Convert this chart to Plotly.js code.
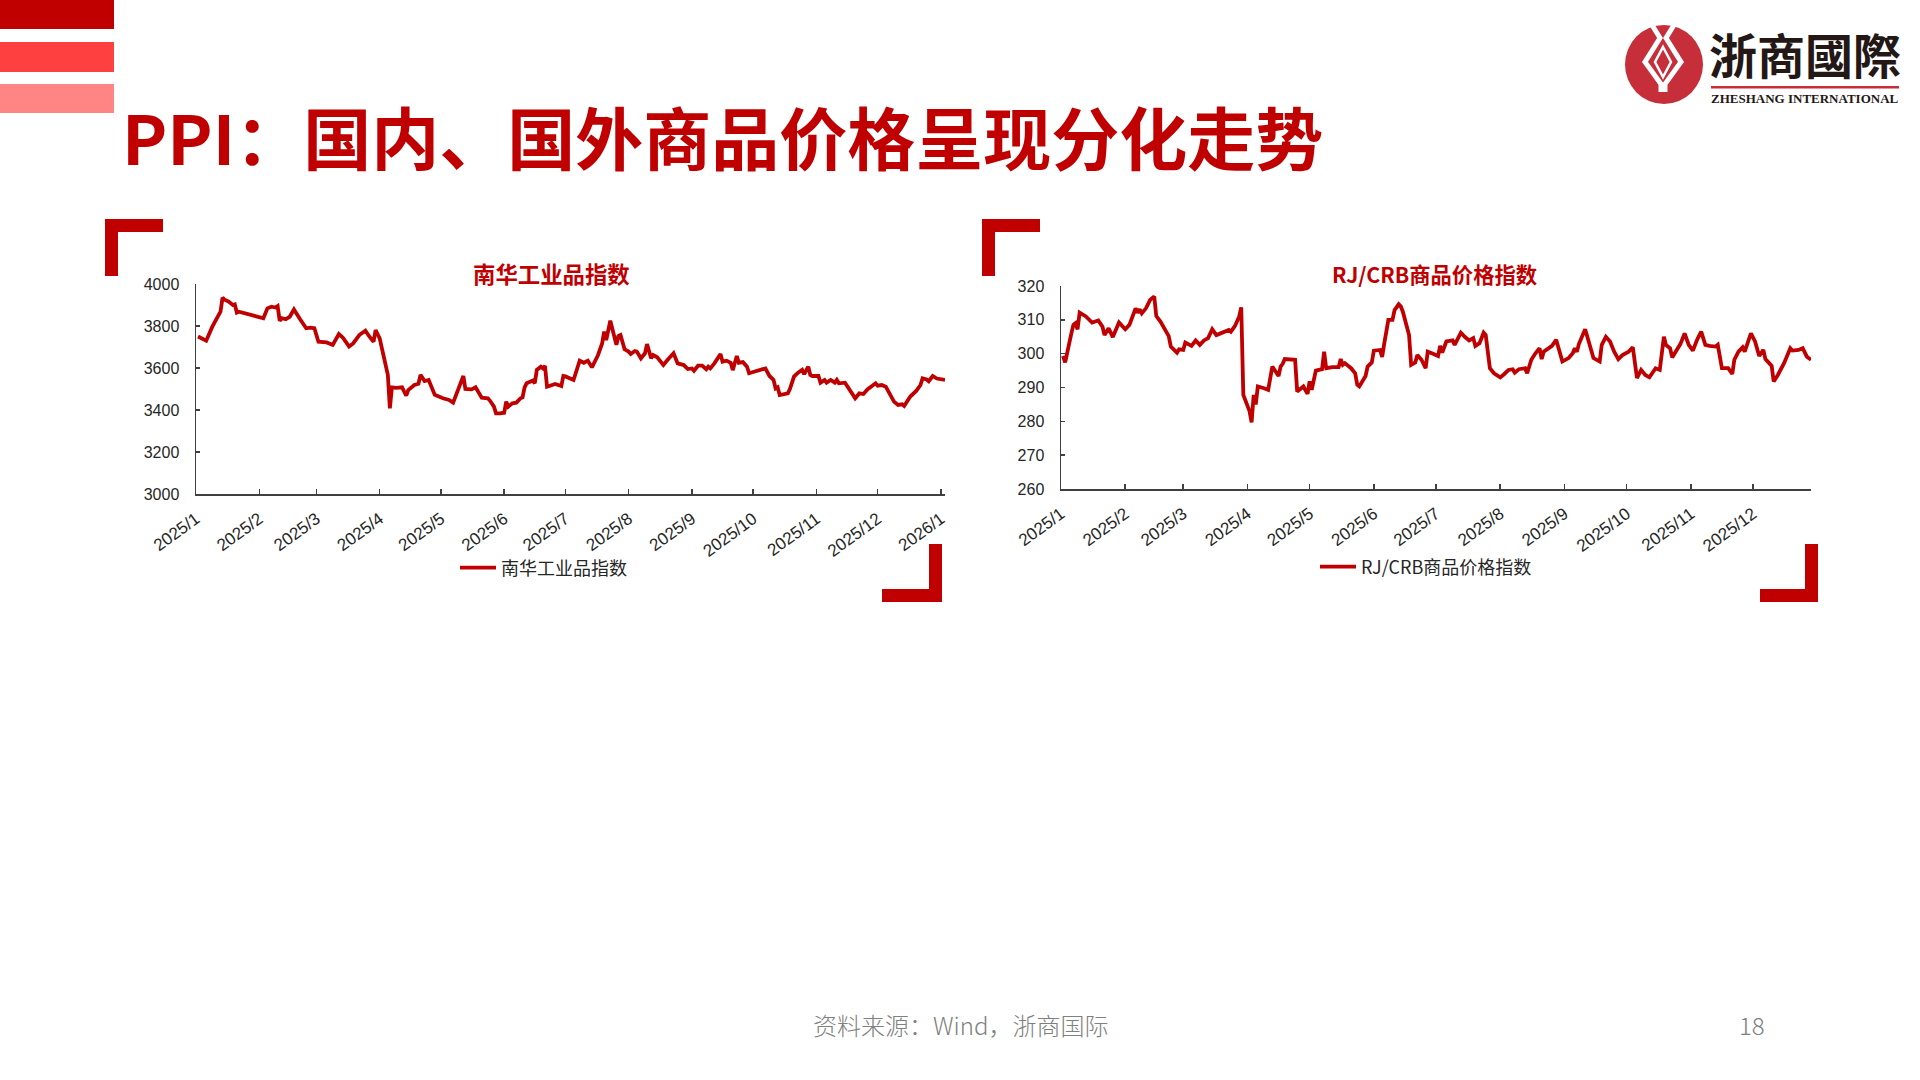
<!DOCTYPE html>
<html>
<head>
<meta charset="utf-8">
<script src="https://cdn.plot.ly/plotly-3.0.1.min.js"></script>
<style>
html,body{margin:0;padding:0;background:#fff;}
#chart{width:1920px;height:1080px;}
</style>
</head>
<body>
<div id="chart"></div>
<script>
// ---------------- DATA ----------------
const nanhuaName = "南华工业品指数";
const nanhuaDates = ["2025-01-02","2025-01-06","2025-01-09","2025-01-12","2025-01-13","2025-01-14","2025-01-15","2025-01-17","2025-01-19","2025-01-20","2025-01-21","2025-01-22","2025-02-03","2025-02-05","2025-02-07","2025-02-09","2025-02-10","2025-02-11","2025-02-12","2025-02-14","2025-02-16","2025-02-18","2025-02-20","2025-02-21","2025-02-24","2025-02-26","2025-02-28","2025-03-02","2025-03-06","2025-03-09","2025-03-12","2025-03-14","2025-03-17","2025-03-19","2025-03-22","2025-03-23","2025-03-25","2025-03-27","2025-03-29","2025-03-30","2025-04-01","2025-04-03","2025-04-05","2025-04-06","2025-04-07","2025-04-09","2025-04-12","2025-04-14","2025-04-15","2025-04-18","2025-04-20","2025-04-21","2025-04-23","2025-04-25","2025-04-28","2025-05-02","2025-05-05","2025-05-07","2025-05-08","2025-05-10","2025-05-12","2025-05-13","2025-05-16","2025-05-18","2025-05-20","2025-05-21","2025-05-24","2025-05-25","2025-05-27","2025-05-28","2025-05-30","2025-06-01","2025-06-02","2025-06-03","2025-06-05","2025-06-07","2025-06-09","2025-06-10","2025-06-11","2025-06-12","2025-06-15","2025-06-16","2025-06-17","2025-06-19","2025-06-20","2025-06-21","2025-06-22","2025-06-24","2025-06-26","2025-06-29","2025-06-30","2025-07-01","2025-07-05","2025-07-08","2025-07-10","2025-07-12","2025-07-14","2025-07-17","2025-07-19","2025-07-20","2025-07-21","2025-07-23","2025-07-24","2025-07-26","2025-07-27","2025-07-28","2025-07-30","2025-08-01","2025-08-02","2025-08-04","2025-08-05","2025-08-07","2025-08-09","2025-08-10","2025-08-12","2025-08-13","2025-08-15","2025-08-18","2025-08-20","2025-08-23","2025-08-25","2025-08-28","2025-08-30","2025-09-01","2025-09-02","2025-09-04","2025-09-06","2025-09-08","2025-09-09","2025-09-10","2025-09-12","2025-09-15","2025-09-16","2025-09-18","2025-09-20","2025-09-21","2025-09-23","2025-09-24","2025-09-26","2025-09-28","2025-09-29","2025-10-07","2025-10-09","2025-10-11","2025-10-12","2025-10-13","2025-10-14","2025-10-18","2025-10-19","2025-10-21","2025-10-23","2025-10-25","2025-10-26","2025-10-28","2025-10-29","2025-10-30","2025-11-02","2025-11-03","2025-11-05","2025-11-06","2025-11-08","2025-11-10","2025-11-11","2025-11-12","2025-11-15","2025-11-17","2025-11-20","2025-11-22","2025-11-24","2025-11-26","2025-11-30","2025-12-01","2025-12-03","2025-12-05","2025-12-07","2025-12-09","2025-12-11","2025-12-13","2025-12-14","2025-12-17","2025-12-20","2025-12-22","2025-12-23","2025-12-25","2025-12-26","2025-12-28","2025-12-30","2026-01-01","2026-01-03"];
const nanhuaValues = [3750,3730,3797,3852,3868,3935,3925,3916,3900,3903,3864,3868,3837,3884,3892,3888,3895,3825,3837,3832,3845,3879,3852,3832,3789,3792,3789,3725,3722,3710,3762,3744,3702,3717,3757,3765,3778,3749,3725,3781,3741,3654,3567,3408,3508,3505,3508,3468,3495,3519,3525,3567,3538,3543,3472,3456,3448,3435,3460,3500,3562,3500,3498,3508,3472,3459,3456,3445,3416,3384,3384,3387,3440,3416,3432,3435,3456,3460,3508,3527,3540,3527,3591,3606,3598,3610,3511,3518,3524,3514,3562,3560,3543,3635,3625,3635,3603,3662,3717,3773,3733,3825,3789,3710,3752,3757,3689,3678,3667,3681,3678,3646,3670,3714,3646,3662,3651,3614,3638,3670,3622,3614,3595,3598,3587,3611,3611,3594,3606,3598,3622,3667,3630,3635,3625,3590,3657,3625,3628,3606,3575,3598,3562,3543,3503,3508,3471,3479,3500,3559,3578,3591,3571,3606,3567,3562,3562,3530,3543,3530,3543,3530,3543,3527,3530,3503,3456,3479,3476,3498,3527,3516,3519,3511,3471,3440,3424,3427,3419,3464,3492,3519,3551,3545,3537,3562,3550,3548,3543];

const crbName = "RJ/CRB商品价格指数";
const crbDates = ["2025-01-02","2025-01-03","2025-01-06","2025-01-07","2025-01-08","2025-01-09","2025-01-10","2025-01-13","2025-01-15","2025-01-16","2025-01-19","2025-01-21","2025-01-22","2025-01-24","2025-01-26","2025-01-29","2025-02-01","2025-02-03","2025-02-06","2025-02-07","2025-02-08","2025-02-09","2025-02-11","2025-02-13","2025-02-15","2025-02-16","2025-02-18","2025-02-19","2025-02-21","2025-02-22","2025-02-23","2025-02-26","2025-02-27","2025-03-01","2025-03-02","2025-03-05","2025-03-07","2025-03-09","2025-03-11","2025-03-13","2025-03-15","2025-03-17","2025-03-19","2025-03-21","2025-03-23","2025-03-24","2025-03-26","2025-03-28","2025-03-29","2025-03-30","2025-04-01","2025-04-02","2025-04-03","2025-04-04","2025-04-05","2025-04-06","2025-04-09","2025-04-11","2025-04-13","2025-04-14","2025-04-16","2025-04-17","2025-04-18","2025-04-19","2025-04-24","2025-04-25","2025-04-28","2025-04-30","2025-05-01","2025-05-02","2025-05-04","2025-05-07","2025-05-08","2025-05-09","2025-05-12","2025-05-15","2025-05-16","2025-05-17","2025-05-18","2025-05-21","2025-05-23","2025-05-24","2025-05-25","2025-05-28","2025-05-29","2025-05-31","2025-06-01","2025-06-04","2025-06-05","2025-06-06","2025-06-08","2025-06-10","2025-06-11","2025-06-13","2025-06-14","2025-06-15","2025-06-18","2025-06-19","2025-06-21","2025-06-22","2025-06-24","2025-06-26","2025-06-27","2025-06-29","2025-07-02","2025-07-03","2025-07-04","2025-07-06","2025-07-09","2025-07-10","2025-07-13","2025-07-15","2025-07-17","2025-07-19","2025-07-20","2025-07-22","2025-07-24","2025-07-25","2025-07-27","2025-07-29","2025-08-01","2025-08-03","2025-08-05","2025-08-07","2025-08-08","2025-08-10","2025-08-13","2025-08-14","2025-08-16","2025-08-18","2025-08-20","2025-08-21","2025-08-22","2025-08-26","2025-08-28","2025-08-31","2025-09-03","2025-09-05","2025-09-06","2025-09-07","2025-09-08","2025-09-11","2025-09-13","2025-09-15","2025-09-18","2025-09-19","2025-09-21","2025-09-23","2025-09-25","2025-09-27","2025-09-29","2025-10-02","2025-10-04","2025-10-06","2025-10-08","2025-10-10","2025-10-12","2025-10-15","2025-10-17","2025-10-19","2025-10-20","2025-10-22","2025-10-23","2025-10-25","2025-10-27","2025-10-29","2025-10-31","2025-11-02","2025-11-04","2025-11-06","2025-11-08","2025-11-10","2025-11-13","2025-11-14","2025-11-16","2025-11-19","2025-11-21","2025-11-22","2025-11-24","2025-11-26","2025-11-27","2025-11-30","2025-12-02","2025-12-04","2025-12-06","2025-12-07","2025-12-10","2025-12-11","2025-12-13","2025-12-16","2025-12-19","2025-12-20","2025-12-23","2025-12-25","2025-12-27","2025-12-29"];
const crbValues = [299.3,297.4,306.0,308.5,309.0,307.2,312.1,311.0,309.8,309.2,309.8,308.0,305.5,307.5,304.9,309.2,307.2,308.5,313.4,312.1,313.1,311.9,313.4,315.9,316.9,311.1,309.5,308.5,306.0,305.2,302.1,300.3,301.3,301.1,303.3,302.3,303.9,302.6,303.9,304.6,307.2,305.5,306.0,306.5,307.0,306.5,308.2,311.0,313.7,287.8,284.9,283.0,279.7,287.8,285.0,290.3,289.8,289.3,296.2,295.2,293.4,296.2,297.0,298.4,298.2,288.8,290.3,288.1,291.8,289.3,295.0,295.4,300.6,295.7,296.0,296.0,298.4,296.7,297.2,295.7,294.2,290.8,290.3,293.4,296.2,297.4,300.9,301.1,299.0,302.9,310.0,310.0,312.9,314.6,314.0,312.4,305.5,296.7,297.4,299.6,298.2,295.7,300.6,300.1,299.3,302.3,300.3,303.6,303.9,302.6,306.2,304.9,303.9,304.6,302.3,303.1,306.2,305.5,295.7,294.2,293.0,294.0,295.2,295.4,294.4,295.4,295.7,294.2,298.2,300.1,301.6,298.4,300.6,302.3,304.1,297.7,298.7,300.1,301.6,300.6,302.9,307.2,302.6,298.7,297.7,302.6,305.0,303.6,300.6,298.4,299.6,300.6,301.9,292.8,295.2,293.7,293.0,295.7,295.2,305.0,302.6,301.6,298.9,300.9,302.9,306.0,302.6,300.9,304.1,306.5,302.6,302.3,302.1,302.6,295.7,295.7,294.0,298.2,300.6,301.9,300.6,306.0,303.6,299.3,301.1,298.4,296.4,291.8,293.7,297.2,301.6,300.9,301.1,301.6,299.1,298.2];

const leftTickVals = ["2025-01-01","2025-02-01","2025-03-01","2025-04-01","2025-05-01","2025-06-01","2025-07-01","2025-08-01","2025-09-01","2025-10-01","2025-11-01","2025-12-01","2026-01-01"];
const leftTickText = ["2025/1","2025/2","2025/3","2025/4","2025/5","2025/6","2025/7","2025/8","2025/9","2025/10","2025/11","2025/12","2026/1"];
const rightTickVals = ["2025-01-01","2025-02-01","2025-03-01","2025-04-01","2025-05-01","2025-06-01","2025-07-01","2025-08-01","2025-09-01","2025-10-01","2025-11-01","2025-12-01"];
const rightTickText = ["2025/1","2025/2","2025/3","2025/4","2025/5","2025/6","2025/7","2025/8","2025/9","2025/10","2025/11","2025/12"];

const pageTitle = "PPI：国内、国外商品价格呈现分化走势";
const sourceText = "资料来源：Wind，浙商国际";
const pageNumber = "18";

// ---------------- LAYOUT HELPERS ----------------
const W = 1920, H = 1080;
const px = x => x / W;
const py = y => 1 - y / H;
const RED = "#C00000";
const AX = "#404040";
const yTickFont = {family: "Liberation Sans, Arial, sans-serif", size: 16, color: "#262626"};
const xTickFont = {family: "Liberation Sans, Arial, sans-serif", size: 17, color: "#262626"};
const cjk = "Noto Sans CJK SC, Noto Sans, sans-serif";

function rect(x0, y0, x1, y1, color) {
  return {type: "rect", xref: "paper", yref: "paper", x0: px(x0), x1: px(x1), y0: py(y1), y1: py(y0),
          fillcolor: color, line: {width: 0}, layer: "above"};
}
function pathShape(pts, color, width, closed, fill) {
  let d = pts.map((p, i) => (i ? "L" : "M") + px(p[0]).toFixed(5) + "," + py(p[1]).toFixed(5)).join(" ");
  if (closed) d += " Z";
  return {type: "path", xref: "paper", yref: "paper", path: d,
          line: {color: color, width: width}, fillcolor: fill || "rgba(0,0,0,0)", layer: "above"};
}

const traces = [
  {x: nanhuaDates, y: nanhuaValues, type: "scatter", mode: "lines", name: nanhuaName,
   xaxis: "x", yaxis: "y", legend: "legend",
   line: {color: RED, width: 3.8}, hoverinfo: "x+y"},
  {x: crbDates, y: crbValues, type: "scatter", mode: "lines", name: crbName,
   xaxis: "x2", yaxis: "y2", legend: "legend2",
   line: {color: RED, width: 3.8}, hoverinfo: "x+y"}
];

const axCommon = {
  showline: true, linecolor: AX, linewidth: 1.5, showgrid: false, zeroline: false,
  ticks: "inside", tickcolor: AX, tickwidth: 1.5, fixedrange: true
};

const shapes = [
  // decorative bars top-left
  rect(0, 0, 114, 29, "#C00000"),
  rect(0, 42, 114, 72, "#FF4040"),
  rect(0, 84, 114, 113, "#FF8585"),
  // left chart brackets
  rect(105, 219, 163, 232, RED), rect(105, 219, 118, 276, RED),
  rect(929, 544, 942, 602, RED), rect(882, 589, 942, 602, RED),
  // right chart brackets
  rect(982, 219, 1040, 232, RED), rect(982, 219, 995, 276, RED),
  rect(1805, 544, 1818, 602, RED), rect(1760, 589, 1818, 602, RED),
  // logo circle
  {type: "circle", xref: "paper", yref: "paper", x0: px(1625), x1: px(1703), y0: py(104), y1: py(25),
   fillcolor: "#C62F3A", line: {width: 0}, layer: "above"},
  pathShape([[1652,25],[1660,38],[1645,62],[1661,84],[1661,92]], "#FFFFFF", 5, false),
  pathShape([[1674,25],[1666,38],[1681,62],[1665,84],[1665,92]], "#FFFFFF", 5, false),
  pathShape([[1663,47],[1671,62],[1663,77],[1655,62]], "#FFFFFF", 2.5, true),
  rect(1711, 86, 1899, 88.5, "#C62F3A")
];

const annotations = [
  {text: "<b>" + pageTitle + "</b>", xref: "paper", yref: "paper", x: px(120), y: py(135),
   xanchor: "left", yanchor: "middle", showarrow: false,
   font: {family: cjk, size: 68, color: RED}},
  {text: "<b>" + nanhuaName + "</b>", xref: "paper", yref: "paper", x: px(551), y: py(273),
   xanchor: "center", yanchor: "middle", showarrow: false,
   font: {family: cjk, size: 22.4, color: RED}},
  {text: "<b>" + crbName + "</b>", xref: "paper", yref: "paper", x: px(1434), y: py(273),
   xanchor: "center", yanchor: "middle", showarrow: false,
   font: {family: cjk, size: 21.3, color: RED}},
  {text: sourceText, xref: "paper", yref: "paper", x: px(960), y: py(1024),
   xanchor: "center", yanchor: "middle", showarrow: false,
   font: {family: cjk, size: 24, color: "#808080", weight: 300}},
  {text: pageNumber, xref: "paper", yref: "paper", x: px(1752), y: py(1024),
   xanchor: "center", yanchor: "middle", showarrow: false,
   font: {family: cjk, size: 24, color: "#808080", weight: 300}},
  {text: "<b>浙商國際</b>", xref: "paper", yref: "paper", x: px(1805), y: py(53),
   xanchor: "center", yanchor: "middle", showarrow: false,
   font: {family: "Noto Sans CJK TC, Noto Sans CJK SC, sans-serif", size: 48, color: "#231815", weight: 900}},
  {text: "<b>ZHESHANG INTERNATIONAL</b>", xref: "paper", yref: "paper", x: px(1805), y: py(98.5),
   xanchor: "center", yanchor: "middle", showarrow: false,
   font: {family: "Liberation Serif, Times New Roman, serif", size: 13, color: "#231815"}}
];

const layout = {
  width: W, height: H,
  margin: {l: 0, r: 0, t: 0, b: 0},
  paper_bgcolor: "#FFFFFF", plot_bgcolor: "#FFFFFF",
  showlegend: true,
  xaxis: Object.assign({}, axCommon, {
    domain: [px(196), px(945)], anchor: "y", type: "date",
    range: ["2025-01-01", "2026-01-03"],
    tickmode: "array", tickvals: leftTickVals, ticktext: leftTickText,
    tickangle: -36, ticklen: 5, tickfont: xTickFont, ticklabelstandoff: 7
  }),
  yaxis: Object.assign({}, axCommon, {
    domain: [py(494), py(284)], anchor: "x",
    range: [3000, 4000], dtick: 200, tick0: 3000, ticklen: 4, ticklabelstandoff: 12,
    tickfont: yTickFont
  }),
  xaxis2: Object.assign({}, axCommon, {
    domain: [px(1061), px(1811)], anchor: "y2", type: "date",
    range: ["2025-01-01", "2025-12-29"],
    tickmode: "array", tickvals: rightTickVals, ticktext: rightTickText,
    tickangle: -36, ticklen: 5, tickfont: xTickFont, ticklabelstandoff: 7
  }),
  yaxis2: Object.assign({}, axCommon, {
    domain: [py(489), py(286)], anchor: "x2",
    range: [260, 320], dtick: 10, tick0: 260, ticklen: 4, ticklabelstandoff: 12,
    tickfont: yTickFont
  }),
  legend: {x: px(455), y: py(568), xanchor: "left", yanchor: "middle",
           orientation: "h", bgcolor: "rgba(0,0,0,0)", borderwidth: 0,
           font: {family: cjk, size: 18, color: "#262626"}, itemwidth: 36},
  legend2: {x: px(1315), y: py(567), xanchor: "left", yanchor: "middle",
           orientation: "h", bgcolor: "rgba(0,0,0,0)", borderwidth: 0,
           font: {family: cjk, size: 18, color: "#262626"}, itemwidth: 36},
  shapes: shapes,
  annotations: annotations
};

Plotly.newPlot("chart", traces, layout, {displayModeBar: false, staticPlot: true});
</script>
</body>
</html>
